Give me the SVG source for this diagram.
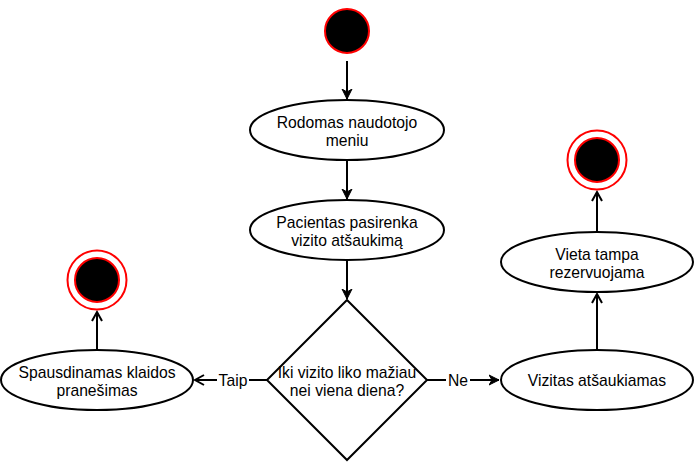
<svg xmlns="http://www.w3.org/2000/svg" width="694" height="462" viewBox="0 0 694 462">
<style>
.n{fill:#fff;stroke:#000;stroke-width:2}
.t{font-family:"Liberation Sans",Arial,sans-serif;font-size:15.7px;fill:#000;text-anchor:middle}
.c{stroke:#000;stroke-width:2;fill:none}
.lbl{font-family:"Liberation Sans",Arial,sans-serif;font-size:15.7px;fill:#000;text-anchor:middle}
</style>
<defs>
<marker id="open" markerWidth="12" markerHeight="12" refX="10" refY="6" orient="auto" markerUnits="userSpaceOnUse">
<path d="M1,1 L10,6 L1,11" fill="none" stroke="#000" stroke-width="2"/>
</marker>
<marker id="fill" markerWidth="12" markerHeight="12" refX="10" refY="6" orient="auto" markerUnits="userSpaceOnUse">
<path d="M0,1 L10,6 L0,11 L3,6 Z" fill="#000" stroke="#000" stroke-width="1"/>
</marker>
</defs>
<g id="connectors">
<path class="c" d="M347,61 L347,99" marker-end="url(#fill)"/>
<path class="c" d="M347,160 L347,199" marker-end="url(#fill)"/>
<path class="c" d="M347,260 L347,299" marker-end="url(#fill)"/>
<path class="c" d="M267,380 L195,380" marker-end="url(#open)"/>
<path class="c" d="M427,380 L499,380" marker-end="url(#fill)"/>
<path class="c" d="M97,350 L97,312" marker-end="url(#open)"/>
<path class="c" d="M597,350 L597,294" marker-end="url(#open)"/>
<path class="c" d="M597,232 L597,192" marker-end="url(#open)"/>
<rect x="217" y="371" width="32" height="18" fill="#fff"/>
<text class="lbl" x="233" y="386">Taip</text>
<rect x="446" y="371" width="24" height="18" fill="#fff"/>
<text class="lbl" x="458" y="386">Ne</text>
</g>
<g id="start">
<circle cx="347" cy="31" r="22" fill="#000" stroke="#f00" stroke-width="2"/>
</g>
<g id="menu">
<ellipse class="n" cx="347" cy="130" rx="97" ry="30"/>
<text class="t" x="347" y="128">Rodomas naudotojo</text>
<text class="t" x="347" y="146">meniu</text>
</g>
<g id="select">
<ellipse class="n" cx="347" cy="230" rx="97" ry="30"/>
<text class="t" x="347" y="228">Pacientas pasirenka</text>
<text class="t" x="347" y="246">vizito atšaukimą</text>
</g>
<g id="decision">
<path class="n" d="M347,300 L427,380 L347,460 L267,380 Z"/>
<text class="t" x="347" y="378">Iki vizito liko mažiau</text>
<text class="t" x="347" y="396">nei viena diena?</text>
</g>
<g id="error">
<ellipse class="n" cx="97" cy="380" rx="96" ry="30"/>
<text class="t" x="97" y="378">Spausdinamas klaidos</text>
<text class="t" x="97" y="396">pranešimas</text>
</g>
<g id="end1">
<circle cx="97" cy="280" r="29.5" fill="#fff" stroke="#f00" stroke-width="2"/>
<circle cx="97" cy="280" r="22" fill="#000" stroke="#f00" stroke-width="2"/>
</g>
<g id="cancel">
<ellipse class="n" cx="597" cy="380" rx="96" ry="30"/>
<text class="t" x="597" y="386">Vizitas atšaukiamas</text>
</g>
<g id="reserve">
<ellipse class="n" cx="597" cy="262" rx="96" ry="30"/>
<text class="t" x="597" y="260">Vieta tampa</text>
<text class="t" x="597" y="278">rezervuojama</text>
</g>
<g id="end2">
<circle cx="597" cy="160" r="29.5" fill="#fff" stroke="#f00" stroke-width="2"/>
<circle cx="597" cy="160" r="22" fill="#000" stroke="#f00" stroke-width="2"/>
</g>
</svg>
